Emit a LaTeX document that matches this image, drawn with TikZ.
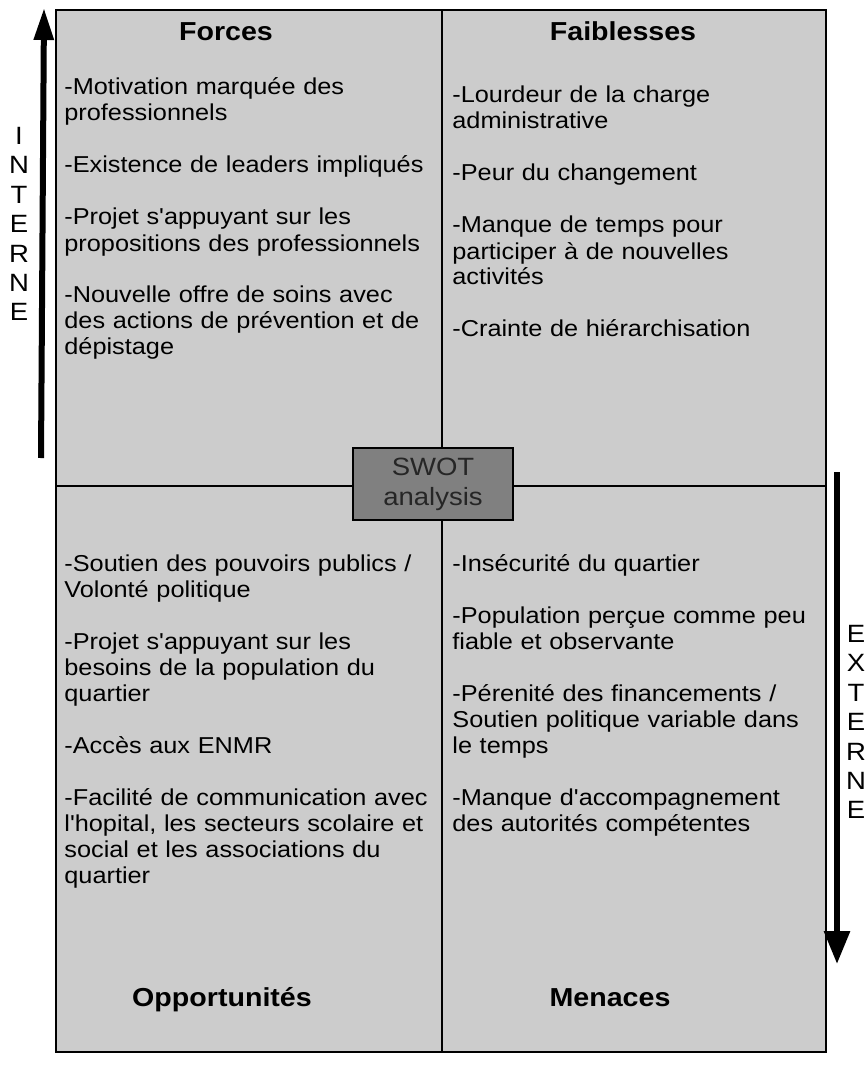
\documentclass[tikz,border=0pt]{standalone}
\usepackage{fontspec}
\setmainfont{Liberation Sans}[FakeStretch=1.1, Ligatures=TeXOff]
\usetikzlibrary{arrows.meta}
\definecolor{quadgray}{HTML}{CCCCCC}
\definecolor{swotgray}{HTML}{808080}
\tikzset{
  quadline/.style={draw=black, line width=0.8pt},
  heading/.style={anchor=base, inner sep=0pt, font=\bfseries\fontsize{13}{15}\selectfont},
  items/.style={anchor=base west, inner sep=0pt, text width=200pt, align=left, font=\fontsize{11.5}{13}\selectfont},
  swotbox/.style={draw=black, line width=1.3pt, fill=swotgray, minimum width=80pt, minimum height=36pt, inner sep=0pt, align=center, text=black!85, font=\fontsize{12.5}{15}\selectfont},
  bigarrow/.style={line width=3pt, -{Triangle[length=16pt, width=9.5pt]}},
  sideword/.style={inner sep=0pt, align=center, font=\fontsize{12.5}{14.7}\selectfont}
}

\begin{document}
\begin{tikzpicture}[x=0.5pt, y=-0.5pt]
\useasboundingbox (0,0) rectangle (866,1070);

% quadrants
\fill[quadgray] (56,10) rectangle (826,1052);
\draw[quadline] (56,10) rectangle (826,1052);
\draw[quadline] (442,10) -- (442,1052);
\draw[quadline] (56,486) -- (826,486);

% headings
\node[heading] (forces) at (226,41) {Forces};
\node[heading] (faiblesses) at (623,41) {Faiblesses};
\node[heading] (opportunites) at (222,1006) {Opportunités};
\node[heading] (menaces) at (610,1006) {Menaces};

% lists
\node[items] (forcestxt) at (64,95) {-Motivation marquée des\\professionnels\\[13pt]
  -Existence de leaders impliqués\\[13pt]
  -Projet s'appuyant sur les\\propositions des professionnels\\[13pt]
  -Nouvelle offre de soins avec\\des actions de prévention et de\\dépistage};
\node[items] (faiblestxt) at (452,103) {-Lourdeur de la charge\\administrative\\[13pt]
  -Peur du changement\\[13pt]
  -Manque de temps pour\\participer à de nouvelles\\activités\\[13pt]
  -Crainte de hiérarchisation};
\node[items] (opportxt) at (64,571) {-Soutien des pouvoirs publics /\\Volonté politique\\[13pt]
  -Projet s'appuyant sur les\\besoins de la population du\\quartier\\[13pt]
  -Accès aux ENMR\\[13pt]
  -Facilité de communication avec\\l'hopital, les secteurs scolaire et\\social et les associations du\\quartier};
\node[items] (menacestxt) at (452,571) {-Insécurité du quartier\\[13pt]
  -Population perçue comme peu\\fiable et observante\\[13pt]
  -Pérenité des financements /\\Soutien politique variable dans\\le temps\\[13pt]
  -Manque d'accompagnement\\des autorités compétentes};

% centre
\node[swotbox] (swot) at (433,484) {SWOT\\analysis};

% axes
\coordinate (intbas) at (41,458);
\coordinate (inthaut) at (44,8);
\draw[bigarrow] (intbas) -- (inthaut);
\node[sideword] (interne) at (19,224) {I\\N\\T\\E\\R\\N\\E};

\coordinate (exthaut) at (837,472);
\coordinate (extbas) at (837,964);
\draw[bigarrow, -{Triangle[length=16.5pt, width=12.5pt]}] (exthaut) -- (extbas);
\node[sideword] (externe) at (856,722) {E\\X\\T\\E\\R\\N\\E};

\end{tikzpicture}
\end{document}
